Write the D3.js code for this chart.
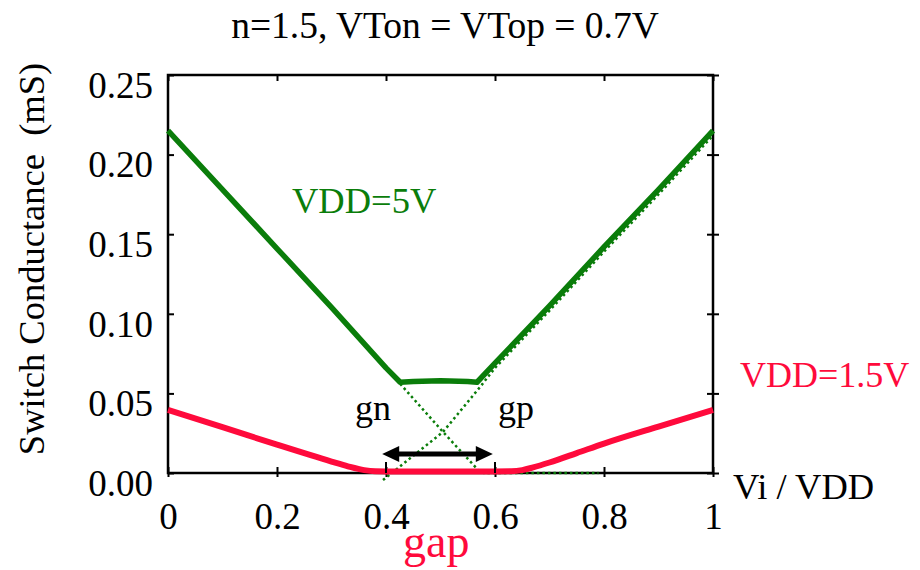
<!DOCTYPE html>
<html>
  <head>
    <meta charset="UTF-8" />
    <script src="https://cdn.jsdelivr.net/npm/d3@7"></script>
  </head>
  <body style="margin:0">
    <div id="container"></div>
    <script>
      // data (Vi/VDD, conductance in mS)
      const vdd5X = [0, 0.1, 0.2, 0.3, 0.4, 0.426, 0.45, 0.5, 0.55, 0.567, 0.6, 0.7, 0.8, 0.9, 1.0]
      const vdd5Y = [0.215, 0.178, 0.141, 0.104, 0.066, 0.057, 0.0575, 0.058, 0.0575, 0.057, 0.069, 0.105, 0.142, 0.178, 0.215]

      const vdd15X = [0, 0.1, 0.2, 0.3, 0.33, 0.36, 0.38, 0.4, 0.5, 0.6, 0.63, 0.65, 0.67, 0.7, 0.75, 0.8, 0.9, 1.0]
      const vdd15Y = [0.0396, 0.0288, 0.0178, 0.0072, 0.0042, 0.0018, 0.0011, 0.001, 0.001, 0.001, 0.0011, 0.0018, 0.0035, 0.0066, 0.0125, 0.0185, 0.0292, 0.0396]

      // dotted gn / gp components at VDD=5V
      const gnX = [0.426, 0.5046, 0.5725, 0.58, 0.79]
      const gnY = [0.056, 0.0258, 0.0006, 0, 0]
      const gpX = [0.3945, 0.5046, 0.5725, 0.6, 0.7, 0.8, 0.9, 1.0]
      const gpY = [-0.0044, 0.0258, 0.054, 0.066, 0.102, 0.139, 0.175, 0.212]

      const gap = [0.4, 0.6]
      const arrowX = [0.393, 0.596]
      const arrowY = 0.012

      const xTicks = [0, 0.2, 0.4, 0.6, 0.8, 1]
      const xTickLabels = ['0', '0.2', '0.4', '0.6', '0.8', '1']
      const yTicks = [0, 0.05, 0.10, 0.15, 0.20, 0.25]
      const yTickLabels = ['0.00', '0.05', '0.10', '0.15', '0.20', '0.25']

      const width = 920
      const height = 570
      const marginTop = 75
      const marginRight = 207
      const marginBottom = 97
      const marginLeft = 168

      const font = '"Liberation Serif", serif'
      const green = '#0a7d0a'
      const red = '#ff0a3c'

      const x = d3.scaleLinear().domain([0, 1]).range([marginLeft, width - marginRight])
      const y = d3.scaleLinear().domain([0, 0.25]).range([height - marginBottom, marginTop])

      const svg = d3.create('svg')
        .attr('width', width)
        .attr('height', height)

      const line = d3.line().x(d => x(d[0])).y(d => y(d[1]))

      // frame
      svg.append('rect')
        .attr('x', x(0)).attr('y', y(0.25))
        .attr('width', x(1) - x(0)).attr('height', y(0) - y(0.25))
        .attr('fill', 'none').attr('stroke', '#000').attr('stroke-width', 2.5)

      // left axis
      const yAxis = svg.append('g')
        .attr('transform', `translate(${marginLeft},0)`)
        .call(d3.axisLeft(y).tickValues(yTicks).tickSizeInner(-6).tickSizeOuter(0)
          .tickFormat((d, i) => yTickLabels[i]))
      yAxis.select('.domain').remove()
      yAxis.selectAll('line').attr('stroke-width', 2)
      yAxis.selectAll('text')
        .attr('x', -15).attr('dy', '0.6em')
        .attr('font-size', 37).attr('fill', '#000')

      // right axis ticks
      const rAxis = svg.append('g')
        .attr('transform', `translate(${x(1)},0)`)
        .call(d3.axisRight(y).tickValues(yTicks).tickSizeInner(6).tickSizeOuter(0).tickFormat(''))
      rAxis.select('.domain').remove()
      rAxis.selectAll('line').attr('x1', -6).attr('stroke-width', 2)

      // bottom axis
      const xAxis = svg.append('g')
        .attr('transform', `translate(0,${y(0)})`)
        .call(d3.axisBottom(x).tickValues(xTicks).tickSizeInner(4).tickSizeOuter(0)
          .tickFormat((d, i) => xTickLabels[i]))
      xAxis.select('.domain').remove()
      xAxis.selectAll('line').attr('y1', -6).attr('stroke-width', 2)
      xAxis.selectAll('text')
        .attr('y', 30).attr('dy', '0.71em')
        .attr('font-size', 37).attr('fill', '#000')

      // top axis ticks
      const tAxis = svg.append('g')
        .attr('transform', `translate(0,${y(0.25)})`)
        .call(d3.axisTop(x).tickValues(xTicks).tickSizeInner(-6).tickSizeOuter(0).tickFormat(''))
      tAxis.select('.domain').remove()
      tAxis.selectAll('line').attr('stroke-width', 2)

      // dotted components
      svg.append('path')
        .datum(d3.zip(gnX, gnY))
        .attr('d', line)
        .attr('fill', 'none').attr('stroke', green)
        .attr('stroke-width', 2.5).attr('stroke-dasharray', '2.5,3')
      svg.append('path')
        .datum(d3.zip(gpX, gpY))
        .attr('d', line)
        .attr('fill', 'none').attr('stroke', green)
        .attr('stroke-width', 2.5).attr('stroke-dasharray', '2.5,3')

      // solid curves
      svg.append('path')
        .datum(d3.zip(vdd5X, vdd5Y))
        .attr('d', line)
        .attr('fill', 'none').attr('stroke', green)
        .attr('stroke-width', 5.5).attr('stroke-linejoin', 'round')
      svg.append('path')
        .datum(d3.zip(vdd15X, vdd15Y))
        .attr('d', line.curve(d3.curveMonotoneX))
        .attr('fill', 'none').attr('stroke', red)
        .attr('stroke-width', 6).attr('stroke-linejoin', 'round')

      // gap marks
      svg.append('g')
        .selectAll('line')
        .data(gap)
        .join('line')
        .attr('x1', d => x(d)).attr('x2', d => x(d))
        .attr('y1', y(0) - 11).attr('y2', y(0))
        .attr('stroke', '#000').attr('stroke-width', 2)

      // double arrow
      const ax0 = x(arrowX[0]), ax1 = x(arrowX[1]), ay = y(arrowY)
      const head = 17, half = 8
      svg.append('line')
        .attr('x1', ax0 + head - 2).attr('x2', ax1 - head + 2)
        .attr('y1', ay).attr('y2', ay)
        .attr('stroke', '#000').attr('stroke-width', 5)
      svg.append('path')
        .attr('d', `M${ax0},${ay}L${ax0 + head},${ay - half}L${ax0 + head},${ay + half}Z`)
        .attr('fill', '#000')
      svg.append('path')
        .attr('d', `M${ax1},${ay}L${ax1 - head},${ay - half}L${ax1 - head},${ay + half}Z`)
        .attr('fill', '#000')

      // texts
      const txt = (s, tx, ty, size, color, anchor) => svg.append('text')
        .attr('x', tx).attr('y', ty)
        .attr('font-size', size).attr('fill', color)
        .attr('text-anchor', anchor || 'start')
        .style('white-space', 'pre')
        .text(s)

      txt('n=1.5, VTon = VTop = 0.7V', 445, 38, 37.5, '#000', 'middle')
      txt('VDD=5V', 292, 213, 36.5, green)
      txt('VDD=1.5V', 740, 387, 36, red)
      txt('gn', 355, 420, 36, '#000')
      txt('gp', 498, 420, 36, '#000')
      txt('Vi / VDD', 733, 499, 36.5, '#000')
      txt('gap', 403, 557, 46, red)

      svg.append('text')
        .attr('transform', `translate(44,${(y(0) + y(0.25)) / 2 - 15}) rotate(-90)`)
        .attr('text-anchor', 'middle')
        .attr('font-size', 36.5).attr('fill', '#000')
        .style('white-space', 'pre')
        .text('Switch Conductance  (mS)')

      // one font for every text, axis texts included
      svg.selectAll('text')
        .style('font-family', font)
        .style('font-size', function () { return (this.getAttribute('font-size') || 36) + 'px' })

      document.getElementById('container').append(svg.node())
    </script>
  </body>
</html>
